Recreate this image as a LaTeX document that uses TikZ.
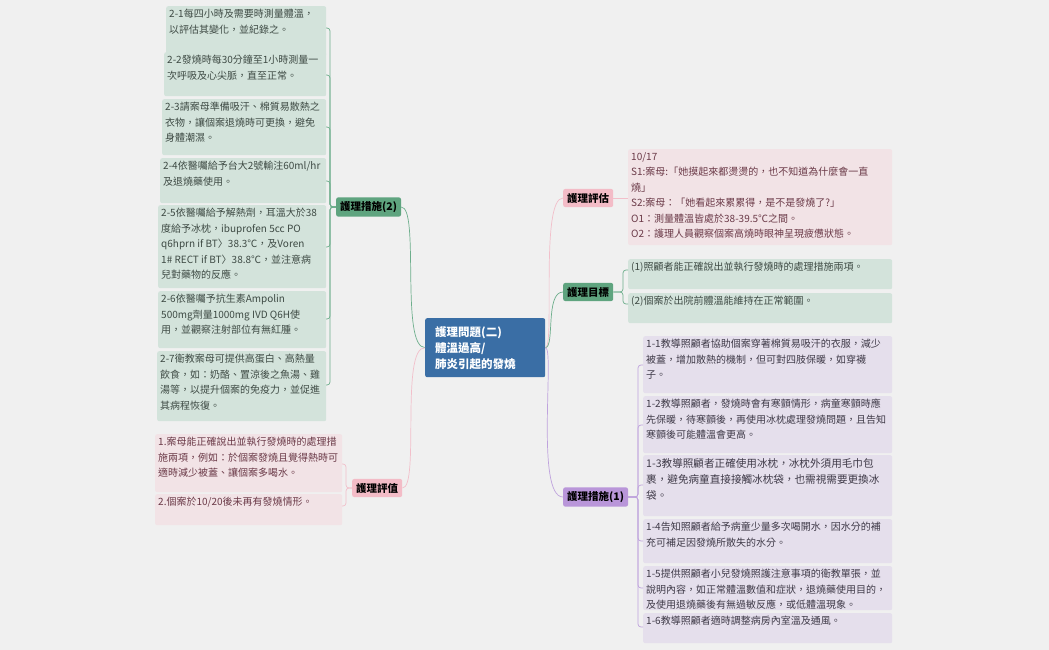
\documentclass[tikz,border=0pt]{standalone}
\usepackage{fontspec}
\setmainfont{Noto Sans CJK TC}
\newcommand{\bx}[3]{\parbox[t][#2pt][t]{#1pt}{\raggedright #3}}
\begin{document}
\begin{tikzpicture}[x=1pt,y=-1pt,
 box/.style={anchor=north west,align=left,inner xsep=3pt,inner ysep=3pt,rounded corners=2pt,font=\fontsize{10}{15.5}\selectfont},
 gbox/.style={box,fill=gfill,text=txtg},
 pbox/.style={box,fill=pfill,text=txtp},
 vbox/.style={box,fill=vfill,text=txtv},
 topic/.style={rounded corners=2pt,font=\bfseries\fontsize{10.5}{12}\selectfont,inner sep=4pt,text=black},
 gl/.style={draw=gline,line width=0.7pt},
 pl/.style={draw=pline,line width=0.7pt},
 vl/.style={draw=vline,line width=0.7pt},
 br/.style={rounded corners=3pt}]
\definecolor{bg}{HTML}{F0F0F0}
\definecolor{gfill}{HTML}{D3E3DB}
\definecolor{pfill}{HTML}{F2E3E6}
\definecolor{vfill}{HTML}{E5DFEC}
\definecolor{txtg}{HTML}{3E4A44}
\definecolor{txtp}{HTML}{6B3A48}
\definecolor{txtv}{HTML}{3F3A48}
\definecolor{gnode}{HTML}{5FA47F}
\definecolor{pnode}{HTML}{F3BCC7}
\definecolor{vnode}{HTML}{B996D9}
\definecolor{gline}{HTML}{6DAE8C}
\definecolor{pline}{HTML}{F2BFCA}
\definecolor{vline}{HTML}{BFA3DD}
\definecolor{cnode}{HTML}{3A6EA5}
\fill[bg] (0,0) rectangle (1049,650);
\useasboundingbox (0,0) rectangle (1049,650);
% central
\node[fill=cnode,rounded corners=2pt,text=white,font=\bfseries\fontsize{11.5}{16}\selectfont,align=left,anchor=north west,inner sep=0pt] (c) at (425,318) {\parbox[t][59pt][c]{120pt}{\hspace*{10pt}\parbox{105pt}{護理問題(二)\\體溫過高/\\肺炎引起的發燒}}};
% topics
\node[topic,fill=gnode,anchor=west] (n2) at (336,207) {護理措施(2)};
\node[topic,fill=pnode,anchor=west] (ev) at (352,488) {護理評值};
\node[topic,fill=pnode,anchor=west] (as) at (563,198) {護理評估};
\node[topic,fill=gnode,anchor=west] (go) at (563,292) {護理目標};
\node[topic,fill=vnode,anchor=west] (n1) at (563,497) {護理措施(1)};
% left boxes
\node[gbox] (b21) at (166,6) {\bx{154}{44}{2-1每四小時及需要時測量體溫，\\以評估其變化，並紀錄之。}};
\node[gbox] (b22) at (164,52) {\bx{156}{38}{2-2發燒時每30分鐘至1小時測量一\\次呼吸及心尖脈，直至正常。}};
\node[gbox] (b23) at (162,99) {\bx{158}{50}{2-3請案母準備吸汗、棉質易散熱之\\衣物，讓個案退燒時可更換，避免\\身體潮濕。}};
\node[gbox] (b24) at (160,158) {\bx{160}{39}{2-4依醫囑給予台大2號輸注60ml/hr\\及退燒藥使用。}};
\node[gbox] (b25) at (158,205) {\bx{162}{77}{2-5依醫囑給予解熱劑，耳溫大於38\\度給予冰枕，ibuprofen 5cc PO\\q6hprn if BT〉38.3℃，及Voren\\1\# RECT if BT〉38.8℃，並注意病\\兒對藥物的反應。}};
\node[gbox] (b26) at (158,291) {\bx{162}{51}{2-6依醫囑予抗生素Ampolin\\500mg劑量1000mg IVD Q6H使\\用，並觀察注射部位有無紅腫。}};
\node[gbox] (b27) at (157,351) {\bx{163}{64}{2-7衛教案母可提供高蛋白、高熱量\\飲食，如：奶酪、置涼後之魚湯、雞\\湯等，以提升個案的免疫力，並促進\\其病程恢復。}};
\foreach \b/\yy in {b21/28,b22/75,b23/127,b24/181,b25/247,b26/319,b27/385}{
 \draw[gl,br] (n2.west) -- (330,207) -- (330,\yy) -- (326,\yy);
}
% eval boxes
\node[pbox] (e1) at (155,434) {\bx{181}{52}{1.案母能正確說出並執行發燒時的處理措\\施兩項，例如：於個案發燒且覺得熱時可\\適時減少被蓋、讓個案多喝水。}};
\node[pbox] (e2) at (155,494) {\bx{181}{25}{2.個案於10/20後未再有發燒情形。}};
\draw[pl,br] (ev.west) -- (346,488) -- (346,464) -- (342,464);
\draw[pl,br] (ev.west) -- (346,488) -- (346,506) -- (342,506);
% assessment
\node[pbox] (a1) at (628,149) {\bx{258}{90}{10/17\\S1:案母:「她摸起來都燙燙的，也不知道為什麼會一直\\燒」\\S2:案母：「她看起來累累得，是不是發燒了?」\\O1：測量體溫皆處於38-39.5℃之間。\\O2：護理人員觀察個案高燒時眼神呈現疲憊狀態。}};
\draw[pl] (as.east) -- (628,198);
% goals
\node[gbox] (g1) at (628,259) {\bx{258}{24}{(1)照顧者能正確說出並執行發燒時的處理措施兩項。}};
\node[gbox] (g2) at (628,293) {\bx{258}{24}{(2)個案於出院前體溫能維持在正常範圍。}};
\draw[gl,br] (go.east) -- (623,292) -- (623,270) -- (628,270);
\draw[gl,br] (go.east) -- (623,292) -- (623,304) -- (628,304);
% measures 1
\node[vbox] (m1) at (643,336) {\bx{243}{51}{1-1教導照顧者協助個案穿著棉質易吸汗的衣服，減少\\被蓋，增加散熱的機制，但可對四肢保暖，如穿襪\\子。}};
\node[vbox] (m2) at (643,396) {\bx{243}{51}{1-2教導照顧者，發燒時會有寒顫情形，病童寒顫時應\\先保暖，待寒顫後，再使用冰枕處理發燒問題，且告知\\寒顫後可能體溫會更高。}};
\node[vbox,font=\fontsize{10.6}{16}\selectfont] (m3) at (643,455) {\bx{243}{55}{1-3教導照顧者正確使用冰枕，冰枕外須用毛巾包\\裹，避免病童直接接觸冰枕袋，也需視需要更換冰\\袋。}};
\node[vbox] (m4) at (643,519) {\bx{243}{38}{1-4告知照顧者給予病童少量多次喝開水，因水分的補\\充可補足因發燒所散失的水分。}};
\node[vbox] (m5) at (643,566) {\bx{243}{38}{1-5提供照顧者小兒發燒照護注意事項的衛教單張，並\\說明內容，如正常體溫數值和症狀，退燒藥使用目的，\\及使用退燒藥後有無過敏反應，或低體溫現象。}};
\node[vbox] (m6) at (643,613) {\bx{243}{24}{1-6教導照顧者適時調整病房內室溫及通風。}};
\foreach \yy in {365,425,485,541,588,627}{
 \draw[vl,br] (n1.east) -- (638,497) -- (638,\yy) -- (643,\yy);
}
% main curves
\draw[gl] (c.west) .. controls (400,347) and (420,207) .. (n2.east);
\draw[pl] (c.west) .. controls (400,347) and (420,488) .. (ev.east);
\draw[pl] (c.east) .. controls (555,347) and (540,198) .. (as.west);
\draw[gl] (c.east) .. controls (555,347) and (545,292) .. (go.west);
\draw[vl] (c.east) .. controls (555,347) and (535,497) .. (n1.west);
\end{tikzpicture}
\end{document}
